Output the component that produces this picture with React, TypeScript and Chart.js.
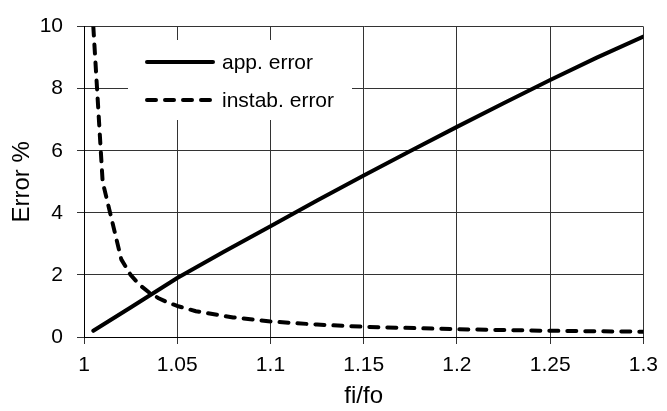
import React, { useEffect, useRef } from "react";
import { Chart, registerables } from "chart.js";

Chart.register(...registerables);

// ---- data ----
const appX = [1.005, 1.025, 1.05, 1.075, 1.1, 1.125, 1.15, 1.175, 1.2, 1.225, 1.25, 1.275, 1.3];
const appErr = [0.2, 0.95, 1.9, 2.75, 3.57, 4.4, 5.2, 5.99, 6.77, 7.53, 8.28, 9.0, 9.68];

const instabX = [1.005, 1.01, 1.02, 1.025, 1.03, 1.035, 1.04, 1.045, 1.05, 1.06, 1.08, 1.1, 1.125, 1.15, 1.2, 1.25, 1.3];
const instabErr = [10, 5, 2.5, 2.0, 1.67, 1.43, 1.25, 1.11, 1.0, 0.83, 0.63, 0.5, 0.4, 0.33, 0.25, 0.2, 0.17];

const seriesLabels = ["app. error", "instab. error"];
const xTitle = "fi/fo";
const yTitle = "Error %";

const FONT = "'Liberation Sans', Arial, Helvetica, sans-serif";

const insideLegend = {
  id: "insideLegend",
  beforeDatasetsDraw(chart: any) {
    const ctx = chart.ctx as CanvasRenderingContext2D;
    ctx.save();
    ctx.fillStyle = "#ffffff";
    ctx.fillRect(128, 40, 224, 80);
    const rows = [62, 100];
    chart.data.datasets.forEach((ds: any, i: number) => {
      const yy = rows[i];
      ctx.beginPath();
      ctx.strokeStyle = ds.borderColor;
      ctx.lineWidth = ds.borderWidth;
      ctx.lineCap = "round";
      ctx.setLineDash(ds.borderDash || []);
      ctx.moveTo(147, yy);
      ctx.lineTo(213, yy);
      ctx.stroke();
      ctx.setLineDash([]);
      ctx.fillStyle = "#000";
      ctx.font = `21px ${FONT}`;
      ctx.textBaseline = "middle";
      ctx.textAlign = "left";
      ctx.fillText(ds.label, 222, yy + 1);
    });
    ctx.restore();
  },
};

export default function App() {
  const ref = useRef<HTMLCanvasElement>(null);

  useEffect(() => {
    if (!ref.current) return;
    const chart = new Chart(ref.current, {
      type: "line",
      data: {
        datasets: [
          {
            label: seriesLabels[0],
            data: appX.map((x, i) => ({ x, y: appErr[i] })),
            borderColor: "#000",
            borderWidth: 4,
            pointRadius: 0,
            borderCapStyle: "round",
            borderJoinStyle: "round",
            fill: false,
          },
          {
            label: seriesLabels[1],
            data: instabX.map((x, i) => ({ x, y: instabErr[i] })),
            borderColor: "#000",
            borderWidth: 4,
            borderDash: [9, 9],
            pointRadius: 0,
            borderCapStyle: "round",
            borderJoinStyle: "round",
            fill: false,
          },
        ],
      },
      options: {
        animation: false,
        responsive: false,
        devicePixelRatio: 1,
        layout: { padding: { top: 14, right: 18, left: 0, bottom: 0 } },
        plugins: {
          legend: { display: false },
          tooltip: { enabled: false },
        },
        scales: {
          x: {
            type: "linear",
            min: 1,
            max: 1.3,
            afterFit(scale: any) {
              scale.height = 74;
            },
            ticks: {
              stepSize: 0.05,
              padding: 9,
              color: "#000",
              font: { family: FONT, size: 21 },
              callback: (v: any) => String(Number(Number(v).toFixed(2))),
              maxRotation: 0,
            },
            grid: { color: "#333", lineWidth: 1, tickLength: 7, drawTicks: true },
            border: { color: "#000", width: 1 },
            title: {
              display: true,
              text: xTitle,
              color: "#000",
              font: { family: FONT, size: 24 },
              padding: { top: 0, bottom: 0 },
            },
          },
          y: {
            type: "linear",
            min: 0,
            max: 10,
            afterFit(scale: any) {
              scale.width = 84;
            },
            ticks: {
              stepSize: 2,
              padding: 14,
              color: "#000",
              font: { family: FONT, size: 21 },
            },
            grid: { color: "#333", lineWidth: 1, tickLength: 7, drawTicks: true },
            border: { color: "#000", width: 1 },
            title: {
              display: true,
              text: yTitle,
              color: "#000",
              font: { family: FONT, size: 24 },
              padding: { top: 8, bottom: 0 },
            },
          },
        },
      },
      plugins: [insideLegend],
    } as any);
    return () => chart.destroy();
  }, []);

  return (
    <div style={{ position: "fixed", left: 0, top: 0, width: 667, height: 411, background: "#fff" }}>
      <canvas ref={ref} width={667} height={411} style={{ display: "block" }} />
    </div>
  );
}
